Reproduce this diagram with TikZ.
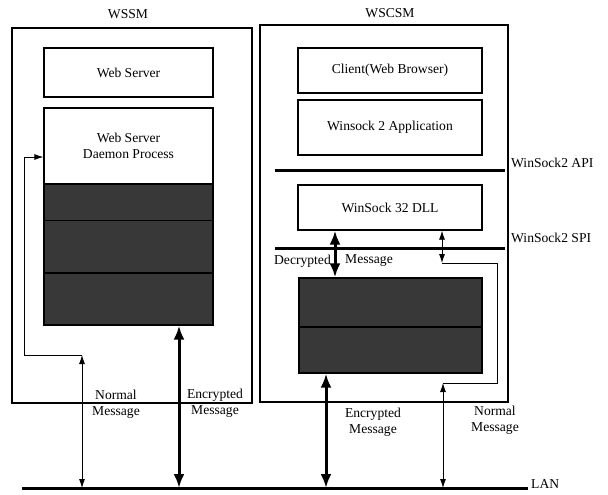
\documentclass[tikz,border=0pt]{standalone}
\usepackage{fontspec}
\setmainfont{Liberation Serif}
\usetikzlibrary{arrows.meta}
\begin{document}
\begin{tikzpicture}[x=1pt,y=-1pt,
  outer/.style={draw, line width=1.1pt, inner sep=0pt},
  box/.style={draw, line width=1.3pt, fill=white, inner sep=0pt, align=center, font=\fontsize{13.6}{16}\selectfont},
  dark/.style={draw=black, line width=1.3pt, fill=black!78, inner sep=0pt},
  lbl/.style={font=\fontsize{13.6}{16.5}\selectfont, align=center, inner sep=0pt},
  bus/.style={line width=3pt},
  thickarr/.style={line width=3pt, {Latex[length=14pt,width=11pt]}-{Latex[length=14pt,width=11pt]}},
  thinarr/.style={line width=0.8pt, {Latex[length=9pt,width=6pt]}-{Latex[length=9pt,width=6pt]}},
  thinline/.style={line width=0.8pt}
]
\useasboundingbox (0,0) rectangle (608,495);
% outer boxes
\node[outer, minimum width=240pt, minimum height=375pt] (wssm) at (132,215.5) {};
\node[outer, minimum width=248pt, minimum height=377pt] (wscsm) at (384,213.5) {};
\node[lbl] (wssmT) at (128,14) {WSSM};
\node[lbl] (wscsmT) at (390,13) {WSCSM};
% left inner
\node[box, minimum width=169pt, minimum height=49pt] (webs) at (128.5,72.5) {Web Server};
\node[box, minimum width=169pt, minimum height=76pt] (daemon) at (128.5,146) {Web Server\\Daemon Process};
\node[dark, minimum width=169pt, minimum height=141pt] (ldark) at (128.5,254.5) {};
\draw[line width=1pt, black] (44,220) -- (213,220);
\draw[line width=1.4pt, black] (44,273) -- (213,273);
% right inner
\node[box, minimum width=184pt, minimum height=45pt] (client) at (390,70.5) {Client(Web Browser)};
\node[box, minimum width=184pt, minimum height=55pt] (app) at (390,127.5) {Winsock 2 Application};
\node[box, minimum width=184pt, minimum height=45pt] (dll) at (390,207.5) {WinSock 32 DLL};
\node[dark, minimum width=183pt, minimum height=95pt] (rdark) at (390.5,325.5) {};
\draw[line width=1.4pt, black] (299,327) -- (482,327);
% buses
\coordinate (apiL) at (275,170); \coordinate (apiR) at (505,170);
\coordinate (spiL) at (275,248); \coordinate (spiR) at (505,248);
\draw[bus] (apiL) -- (apiR);
\draw[bus] (spiL) -- (spiR);
\node[lbl, anchor=west] (apiT) at (511,163) {WinSock2 API};
\node[lbl, anchor=west] (spiT) at (511,238) {WinSock2 SPI};
% LAN
\coordinate (lanL) at (22,488); \coordinate (lanR) at (528,488);
\draw[bus] (lanL) -- (lanR);
\node[lbl, anchor=west] (lanT) at (531,484) {LAN};
% left connectors
\coordinate (fbA) at (24,157);
\coordinate (fbB) at (24,355);
\coordinate (fbC) at (82,355);
\coordinate (fbD) at (82,488);
\draw[thinline, -{Latex[length=9pt,width=6pt]}] (fbB) -- (fbA) -- (daemon.west |- fbA);
\draw[thinline] (fbB) -- (fbC);
\draw[thinarr] (fbC) -- (fbD);
\coordinate (encL) at (179,488);
\draw[thickarr] (ldark.south -| encL) -- (encL);
\node[lbl] (nm1) at (116,404) {Normal\\Message};
\node[lbl] (em1) at (215,403) {Encrypted\\Message};
% right connectors
\coordinate (decT) at (335,230);
\draw[thickarr] (dll.south -| decT) -- (rdark.north -| decT);
\node[lbl, anchor=east] (decA) at (331,261) {Decrypted};
\node[lbl, anchor=west] (decB) at (345,261) {Message};
\coordinate (nr1) at (442,263);
\coordinate (nr2) at (497,263);
\coordinate (nr3) at (497,383);
\coordinate (nr4) at (443,383);
\coordinate (nr5) at (443,488);
\draw[thinarr] (dll.south -| nr1) -- (nr1);
\draw[thinline] (nr1) -- (nr2) -- (nr3) -- (nr4);
\draw[thinarr] (nr4) -- (nr5);
\coordinate (encR) at (326,488);
\draw[thickarr] (rdark.south -| encR) -- (encR);
\node[lbl] (em2) at (373,422) {Encrypted\\Message};
\node[lbl] (nm2) at (495,420) {Normal\\Message};
\end{tikzpicture}
\end{document}
